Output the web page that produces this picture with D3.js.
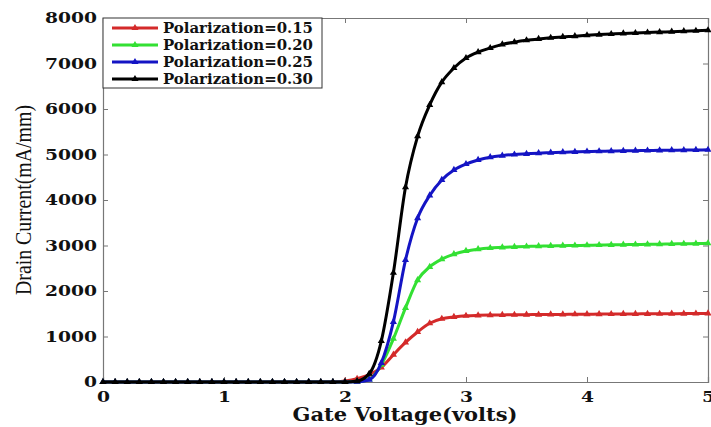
<!DOCTYPE html>
<html>
<head>
<meta charset="utf-8">
<script src="https://cdn.jsdelivr.net/npm/d3@7"></script>
<style>
  body { margin: 0; background: #fff; }
  svg { display: block; }
</style>
</head>
<body>
<div id="chart"></div>
<script>
// gate voltage grid (volts)
const vgs = [0.0,0.1,0.2,0.3,0.4,0.5,0.6,0.7,0.8,0.9,
             1.0,1.1,1.2,1.3,1.4,1.5,1.6,1.7,1.8,1.9,
             2.0,2.1,2.2,2.3,2.4,2.5,2.6,2.7,2.8,2.9,
             3.0,3.1,3.2,3.3,3.4,3.5,3.6,3.7,3.8,3.9,
             4.0,4.1,4.2,4.3,4.4,4.5,4.6,4.7,4.8,4.9,5.0];

// drain current (mA/mm)
const pol015 = [0,0,0,0,0,0,0,0,0,0, 0,0,0,0,0,0,0,0,0,0,
  20,70,160,320,600,870,1100,1290,1390,1430,
  1455,1465,1470,1475,1478,1480,1482,1484,1486,1488,
  1490,1492,1494,1495,1497,1498,1500,1502,1503,1505,1507];
const pol020 = [0,0,0,0,0,0,0,0,0,0, 0,0,0,0,0,0,0,0,0,0,
  0,10,60,380,950,1630,2240,2530,2700,2810,
  2880,2920,2945,2960,2970,2978,2985,2990,2995,3000,
  3005,3010,3014,3018,3022,3026,3030,3034,3038,3042,3048];
const pol025 = [0,0,0,0,0,0,0,0,0,0, 0,0,0,0,0,0,0,0,0,0,
  0,5,50,420,1320,2680,3600,4100,4440,4660,
  4790,4880,4940,4975,5000,5015,5030,5040,5050,5058,
  5065,5070,5075,5080,5084,5088,5091,5094,5097,5100,5103];
const pol030 = [0,0,0,0,0,0,0,0,0,0, 0,0,0,0,0,0,0,0,0,0,
  0,20,180,900,2400,4280,5400,6090,6590,6900,
  7120,7250,7340,7420,7470,7510,7540,7565,7585,7600,
  7620,7635,7648,7660,7670,7680,7690,7700,7710,7720,7730];

const seriesNames = ["Polarization=0.15", "Polarization=0.20", "Polarization=0.25", "Polarization=0.30"];
const seriesColors = ["#d42a2a", "#33e033", "#1414c4", "#000000"];
const seriesValues = [pol015, pol020, pol025, pol030];

const xTicks = [0, 1, 2, 3, 4, 5];
const yTicks = [0, 1000, 2000, 3000, 4000, 5000, 6000, 7000, 8000];

const W = 711, H = 427;
const margin = {top: 18, right: 3, bottom: 45, left: 103};
const iw = W - margin.left - margin.right,
      ih = H - margin.top - margin.bottom;

const svg = d3.select("#chart").append("svg")
  .attr("width", W)
  .attr("height", H);

const g = svg.append("g")
  .attr("transform", "translate(" + margin.left + "," + margin.top + ")");

const x = d3.scaleLinear().domain([0, 5]).range([0, iw]);
const y = d3.scaleLinear().domain([0, 8000]).range([ih, 0]);

const tickFont = "'DejaVu Serif', serif";

// stretch the bold digits a bit wider, like the original figure
function styleTicks(sel) {
  sel.selectAll("text")
    .style("font-family", tickFont).style("font-weight", "bold").style("font-size", "15px")
    .attr("fill", "#111")
    .attr("textLength", function (d) { return String(d).length * 13; })
    .attr("lengthAdjust", "spacingAndGlyphs");
}

// bottom axis
const xAxis = g.append("g")
  .attr("transform", "translate(0," + ih + ")")
  .call(d3.axisBottom(x).tickValues(xTicks).tickSize(-5).tickPadding(9).tickFormat(d3.format("d")));
styleTicks(xAxis);

// top axis (ticks only)
g.append("g")
  .call(d3.axisTop(x).tickValues(xTicks).tickSize(-5).tickFormat(""));

// left axis
const yAxis = g.append("g")
  .call(d3.axisLeft(y).tickValues(yTicks).tickSize(-5).tickPadding(6).tickFormat(d3.format("d")));
styleTicks(yAxis);

// right axis (ticks only)
g.append("g")
  .attr("transform", "translate(" + iw + ",0)")
  .call(d3.axisRight(y).tickValues(yTicks).tickSize(-5).tickFormat(""));

g.selectAll(".domain").attr("stroke", "#777").attr("stroke-width", 1.2);
g.selectAll(".tick line").attr("stroke", "#777");

// axis titles
svg.append("text")
  .attr("x", 405)
  .attr("y", 421)
  .attr("text-anchor", "middle")
  .attr("textLength", 225)
  .attr("lengthAdjust", "spacingAndGlyphs")
  .style("font-family", tickFont).style("font-weight", "bold").style("font-size", "18px")
  .attr("fill", "#111")
  .text("Gate Voltage(volts)");

svg.append("text")
  .attr("transform", "translate(31,200) rotate(-90)")
  .attr("text-anchor", "middle")
  .attr("textLength", 190)
  .attr("lengthAdjust", "spacingAndGlyphs")
  .style("font-family", "'Liberation Serif', serif").style("font-size", "24px")
  .attr("fill", "#111")
  .text("Drain Current(mA/mm)");

// curves
const line = d3.line()
  .x(function (d, i) { return x(vgs[i]); })
  .y(function (d) { return y(d); })
  .curve(d3.curveMonotoneX);

const marker = d3.symbol().type(d3.symbolTriangle).size(22);

seriesValues.forEach(function (vals, s) {
  const sg = g.append("g").attr("class", "series");
  sg.append("path")
    .datum(vals)
    .attr("d", line)
    .attr("fill", "none")
    .attr("stroke", seriesColors[s])
    .attr("stroke-width", 3);
  sg.selectAll("path.mk")
    .data(vals)
    .enter().append("path")
    .attr("class", "mk")
    .attr("d", marker)
    .attr("transform", function (d, i) { return "translate(" + x(vgs[i]) + "," + y(d) + ")"; })
    .attr("fill", seriesColors[s]);
});

// legend
const leg = g.append("g");
leg.append("rect")
  .attr("x", 0).attr("y", 0)
  .attr("width", 219).attr("height", 70)
  .attr("fill", "#fff")
  .attr("stroke", "#333")
  .attr("stroke-width", 1);

seriesNames.forEach(function (name, i) {
  const ly = 10 + i * 17;
  leg.append("line")
    .attr("x1", 9).attr("x2", 55)
    .attr("y1", ly).attr("y2", ly)
    .attr("stroke", seriesColors[i])
    .attr("stroke-width", 3);
  leg.append("path")
    .attr("d", marker)
    .attr("transform", "translate(32," + ly + ")")
    .attr("fill", seriesColors[i]);
  leg.append("text")
    .attr("x", 60).attr("y", ly + 5)
    .attr("textLength", 150)
    .attr("lengthAdjust", "spacingAndGlyphs")
    .style("font-family", tickFont).style("font-weight", "bold").style("font-size", "14px")
    .attr("fill", "#111")
    .text(name);
});
</script>
</body>
</html>
